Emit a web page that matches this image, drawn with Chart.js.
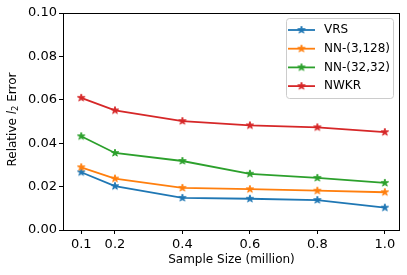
<!DOCTYPE html>
<html>
<head>
<meta charset="utf-8">
<script src="https://cdn.jsdelivr.net/npm/chart.js@4"></script>
<style>
  html, body { margin: 0; padding: 0; background: #fff; }
  #wrap { width: 407px; height: 275px; }
</style>
</head>
<body>
<div id="wrap"><canvas id="chart" width="407" height="275"></canvas></div>
<script>
// values
const sampleSizes = [0.1, 0.2, 0.4, 0.6, 0.8, 1.0];
const vrsErr = [0.0266, 0.0202, 0.0148, 0.0144, 0.0138, 0.0103];
const nn3x128Err = [0.0289, 0.0237, 0.0194, 0.0188, 0.0181, 0.0174];
const nn32x32Err = [0.0432, 0.0355, 0.0318, 0.0259, 0.0240, 0.0217];
const nwkrErr = [0.0609, 0.0551, 0.0502, 0.0482, 0.0473, 0.0451];
const seriesNames = ['VRS', 'NN-(3,128)', 'NN-(32,32)', 'NWKR'];
const seriesColors = ['#1f77b4', '#ff7f0e', '#2ca02c', '#d62728'];
const yTicks = [0, 0.02, 0.04, 0.06, 0.08, 0.10];

const FONT = 'DejaVu Sans';

// filled five-pointed star, like matplotlib's '*' marker
function starImage(color) {
    const size = 12;
    const c = document.createElement('canvas');
    c.width = c.height = size;
    const g = c.getContext('2d');
    const R = 3.9, r = R * 0.382;
    g.beginPath();
    for (let i = 0; i < 10; i++) {
        const rad = i % 2 ? r : R;
        const a = -Math.PI / 2 + i * Math.PI / 5;
        g.lineTo(size / 2 + rad * Math.cos(a), size / 2 + rad * Math.sin(a));
    }
    g.closePath();
    g.fillStyle = color;
    g.fill();
    g.lineWidth = 1;
    g.strokeStyle = color;
    g.stroke();
    return c;
}

const stars = seriesColors.map(starImage);
const allSeries = [vrsErr, nn3x128Err, nn32x32Err, nwkrErr];

const datasets = allSeries.map((vals, i) => ({
    label: seriesNames[i],
    data: sampleSizes.map((x, j) => ({ x: x, y: vals[j] })),
    borderColor: seriesColors[i],
    backgroundColor: seriesColors[i],
    borderWidth: 1.8,
    tension: 0,
    pointStyle: stars[i],
    pointRadius: 5,
    order: allSeries.length - i
}));

const decorations = {
    id: 'decorations',
    afterDraw(chart) {
        const ctx = chart.ctx;
        const a = chart.chartArea;
        ctx.save();

        // axes frame
        ctx.strokeStyle = '#000';
        ctx.lineWidth = 1;
        ctx.strokeRect(Math.round(a.left) + 0.5, Math.round(a.top) + 0.5,
            Math.round(a.right - a.left) - 1, Math.round(a.bottom - a.top));

        // x axis title
        ctx.fillStyle = '#000';
        ctx.font = '12px "' + FONT + '"';
        ctx.textAlign = 'center';
        ctx.textBaseline = 'middle';
        ctx.fillText('Sample Size (million)', (a.left + a.right) / 2, 260);

        // y axis title with italic l and subscript 2
        ctx.translate(13, (a.top + a.bottom) / 2 - 2);
        ctx.rotate(-Math.PI / 2);
        const parts = [
            { t: 'Relative ', f: '12px "' + FONT + '"', dy: 0 },
            { t: 'l', f: 'italic 12px "' + FONT + '"', dy: 0 },
            { t: '2', f: '8.5px "' + FONT + '"', dy: 3 },
            { t: ' Error', f: '12px "' + FONT + '"', dy: 0 }
        ];
        let total = 0;
        parts.forEach(p => { ctx.font = p.f; p.w = ctx.measureText(p.t).width; total += p.w; });
        let x = -total / 2;
        ctx.textAlign = 'left';
        ctx.textBaseline = 'middle';
        parts.forEach(p => {
            ctx.font = p.f;
            ctx.fillText(p.t, x, p.dy);
            x += p.w;
        });
        ctx.setTransform(1, 0, 0, 1, 0, 0);

        // legend box in the upper right corner
        const lx = 286.5, ly = 18.5, lw = 107, lh = 80;
        ctx.beginPath();
        ctx.roundRect(lx, ly, lw, lh, 3);
        ctx.fillStyle = 'rgba(255,255,255,0.8)';
        ctx.fill();
        ctx.strokeStyle = '#cccccc';
        ctx.lineWidth = 1;
        ctx.stroke();
        seriesNames.forEach((name, i) => {
            const y = 30 + i * 18.7;
            ctx.strokeStyle = seriesColors[i];
            ctx.lineWidth = 1.8;
            ctx.beginPath();
            ctx.moveTo(288, y);
            ctx.lineTo(315, y);
            ctx.stroke();
            ctx.drawImage(stars[i], 301.5 - 6, y - 6);
            ctx.fillStyle = '#000';
            ctx.font = '12px "' + FONT + '"';
            ctx.textAlign = 'left';
            ctx.textBaseline = 'middle';
            ctx.fillText(name, 324, y);
        });
        ctx.restore();
    }
};

new Chart(document.getElementById('chart'), {
    type: 'line',
    data: { datasets: datasets },
    options: {
        responsive: false,
        animation: false,
        layout: { padding: { top: 13, right: 7, left: 0, bottom: 0 } },
        plugins: {
            legend: { display: false },
            tooltip: { enabled: false }
        },
        scales: {
            x: {
                type: 'linear',
                min: 0.046,
                max: 1.045,
                afterBuildTicks: s => { s.ticks = sampleSizes.map(v => ({ value: v })); },
                afterFit: s => { s.height = 45; },
                ticks: {
                    font: { family: FONT, size: 13 },
                    color: '#000',
                    padding: 3,
                    maxRotation: 0,
                    autoSkip: false,
                    callback: v => Number(v).toFixed(1)
                },
                grid: { drawOnChartArea: false, tickLength: 4, color: '#000' },
                border: { display: false }
            },
            y: {
                min: 0,
                max: 0.1,
                afterBuildTicks: s => { s.ticks = yTicks.map(v => ({ value: v })); },
                afterFit: s => { s.width = 63; },
                ticks: {
                    font: { family: FONT, size: 13 },
                    color: '#000',
                    padding: 2,
                    callback: v => Number(v).toFixed(2)
                },
                grid: { drawOnChartArea: false, tickLength: 4, color: '#000' },
                border: { display: false }
            }
        }
    },
    plugins: [decorations]
});
</script>
</body>
</html>
